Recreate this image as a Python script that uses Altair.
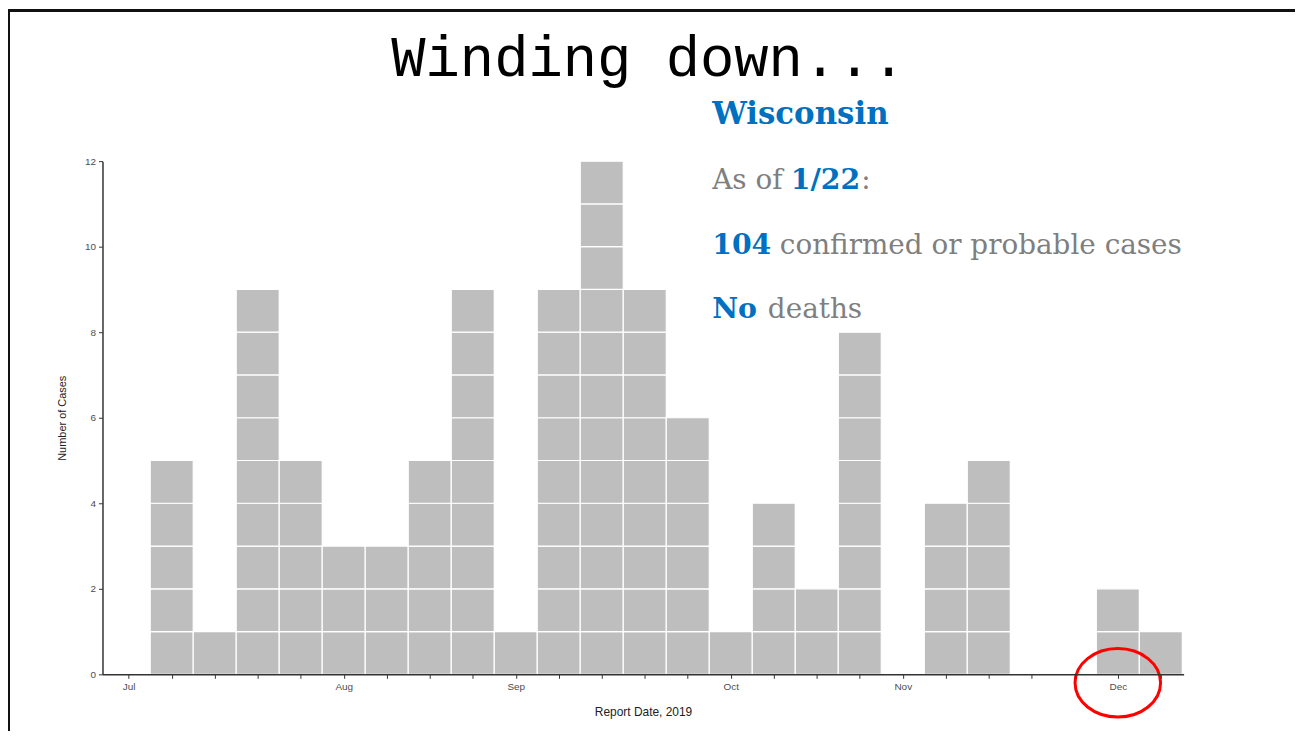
import altair as alt
import pandas as pd

# ---- data ----
weeks = list(range(25))
cases = [0, 5, 1, 9, 5, 3, 3, 5, 9, 1, 9, 12, 9, 6, 1, 4, 2, 8, 0, 4, 5, 0, 0, 2, 1]
month_ticks = [0, 5, 9, 14, 18, 23]
month_labels = ["Jul", "Aug", "Sep", "Oct", "Nov", "Dec"]
y_ticks = [0, 2, 4, 6, 8, 10, 12]

# one rectangle per case (stacked unit boxes)
rows = []
for w, n in zip(weeks, cases):
    for k in range(n):
        rows.append({"week": w, "x0": w - 0.5, "x1": w + 0.5, "y0": k, "y1": k + 1})
boxes = pd.DataFrame(rows)

# label expression for the month ticks
expr = "''"
for v, lab in reversed(list(zip(month_ticks, month_labels))):
    expr = f"datum.value == {v} ? '{lab}' : ({expr})"

W, H = 1087, 516
xscale = alt.Scale(domain=[-0.61, 24.53], nice=False, zero=False)
yscale = alt.Scale(domain=[0, 12], nice=False, zero=True)

AX = dict(domainColor="#333333", domainWidth=1.5, tickColor="#333333", tickSize=4,
          tickWidth=1, labelColor="#4d4d4d", labelFont="Liberation Sans",
          labelFontSize=10, titleFont="Liberation Sans", titleFontWeight="normal",
          titleColor="#222222", grid=False, zindex=1)

bars = alt.Chart(boxes).mark_rect(fill="#bebebe", stroke="white", strokeWidth=1.2).encode(
    x=alt.X("x0:Q", scale=xscale,
            axis=alt.Axis(values=weeks, labelExpr=expr, title="Report Date, 2019",
                          titleFontSize=12, labelPadding=3, titlePadding=15, **AX)),
    x2="x1:Q",
    y=alt.Y("y0:Q", scale=yscale,
            axis=alt.Axis(values=y_ticks, title="Number of Cases", titleFontSize=11,
                          labelPadding=3, titlePadding=17, **AX)),
    y2="y1:Q",
)

one = alt.Data(values=[{"a": 1}])


def label(text, x, y, color, size, font, bold=False, align="left"):
    return alt.Chart(one).mark_text(
        text=text, font=font, fontSize=size, fontWeight="bold" if bold else "normal",
        color=color, align=align, baseline="alphabetic"
    ).encode(x=alt.value(x), y=alt.value(y))


BLUE = "#0070c0"
GRAY = "#7f7f7f"
SERIF = "DejaVu Serif"
FS = 28
FB = 28.5

texts = [
    label("Winding down...", 549, -86, "black", 57.5, "Liberation Mono", align="center"),
    label("Wisconsin", 613, -37, BLUE, 31, SERIF, bold=True),
    label("As of", 613, 28, GRAY, FS, SERIF),
    label("1/22", 692, 28, BLUE, FB, SERIF, bold=True),
    label(":", 763, 28, GRAY, FS, SERIF),
    label("104", 613, 93, BLUE, FB, SERIF, bold=True),
    label("confirmed or probable cases", 681, 93, GRAY, FS, SERIF),
    label("No", 613, 158, BLUE, FB, SERIF, bold=True),
    label("deaths", 669, 158, GRAY, FS, SERIF),
]

ellipse = alt.Chart(one).mark_point(
    shape="M -1 0 A 1 0.8 0 1 0 1 0 A 1 0.8 0 1 0 -1 0 Z",
    filled=False, stroke="#ff0000", strokeWidth=3, size=7396, opacity=1,
).encode(x=alt.datum(month_ticks[-1]), y=alt.value(524.5))

border_v = alt.Chart(one).mark_rule(color="#111111", strokeWidth=3).encode(
    x=alt.value(-94.5), y=alt.value(-153), y2=alt.value(600))
border_h = alt.Chart(one).mark_rule(color="#111111", strokeWidth=3).encode(
    x=alt.value(-96), x2=alt.value(1210), y=alt.value(-151.5))

chart = alt.layer(bars, ellipse, border_v, border_h, *texts).properties(
    width=W, height=H,
    autosize=alt.AutoSizeParams(type="none"),
    padding={"left": 95, "top": 152, "right": 112, "bottom": 55},
    background="white",
).configure_view(strokeWidth=0)

chart.save("out.html", embed_options={"renderer": "svg", "actions": False})
